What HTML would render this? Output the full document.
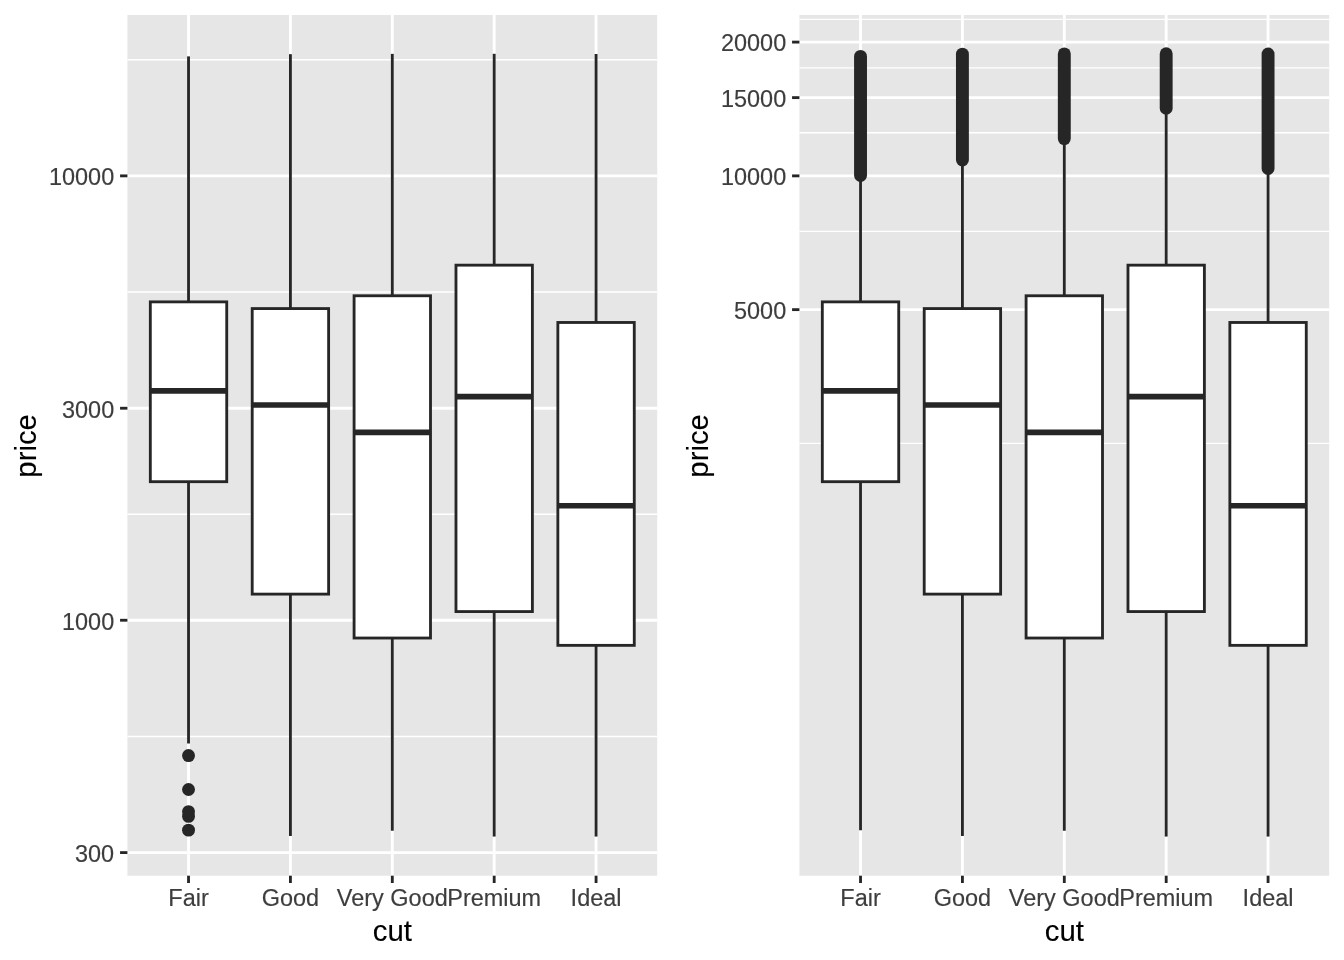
<!DOCTYPE html>
<html lang="en"><head><meta charset="utf-8"><title>price by cut</title>
<style>
html,body{margin:0;padding:0;background:#fff}
body{width:1344px;height:960px;overflow:hidden}
svg{display:block}
text{font-family:"Liberation Sans",Arial,Helvetica,sans-serif}
.at{font-size:23.47px;fill:#3D3D3D;stroke:#3D3D3D;stroke-width:0.15px}
.ti{font-size:29.33px;fill:#000;stroke:#000;stroke-width:0.12px}
</style></head><body>
<svg width="1344" height="960" viewBox="0 0 1344 960">
<rect width="1344" height="960" fill="#fff"/>
<rect x="127.40" y="15" width="529.80" height="860.70" fill="#E6E6E6"/>
<line x1="127.40" x2="657.20" y1="736.43" y2="736.43" stroke="#fff" stroke-width="1.42"/>
<line x1="127.40" x2="657.20" y1="514.24" y2="514.24" stroke="#fff" stroke-width="1.42"/>
<line x1="127.40" x2="657.20" y1="292.05" y2="292.05" stroke="#fff" stroke-width="1.42"/>
<line x1="127.40" x2="657.20" y1="59.70" y2="59.70" stroke="#fff" stroke-width="1.42"/>
<line x1="127.40" x2="657.20" y1="852.60" y2="852.60" stroke="#fff" stroke-width="2.84"/>
<line x1="127.40" x2="657.20" y1="620.25" y2="620.25" stroke="#fff" stroke-width="2.84"/>
<line x1="127.40" x2="657.20" y1="408.23" y2="408.23" stroke="#fff" stroke-width="2.84"/>
<line x1="127.40" x2="657.20" y1="175.87" y2="175.87" stroke="#fff" stroke-width="2.84"/>
<line x1="188.53" x2="188.53" y1="14.67" y2="875.70" stroke="#fff" stroke-width="2.84"/>
<line x1="290.42" x2="290.42" y1="14.67" y2="875.70" stroke="#fff" stroke-width="2.84"/>
<line x1="392.30" x2="392.30" y1="14.67" y2="875.70" stroke="#fff" stroke-width="2.84"/>
<line x1="494.18" x2="494.18" y1="14.67" y2="875.70" stroke="#fff" stroke-width="2.84"/>
<line x1="596.07" x2="596.07" y1="14.67" y2="875.70" stroke="#fff" stroke-width="2.84"/>
<circle cx="188.53" cy="830.16" r="6.45" fill="#262626"/>
<circle cx="188.53" cy="816.35" r="6.45" fill="#262626"/>
<circle cx="188.53" cy="811.61" r="6.45" fill="#262626"/>
<circle cx="188.53" cy="789.51" r="6.45" fill="#262626"/>
<circle cx="188.53" cy="755.57" r="6.45" fill="#262626"/>
<line x1="188.53" x2="188.53" y1="56.38" y2="301.87" stroke="#262626" stroke-width="2.84"/>
<line x1="188.53" x2="188.53" y1="481.69" y2="743.50" stroke="#262626" stroke-width="2.84"/>
<rect x="150.32" y="301.87" width="76.41" height="179.82" fill="#fff" stroke="#262626" stroke-width="2.84" stroke-linejoin="miter"/>
<line x1="150.32" x2="226.74" y1="390.89" y2="390.89" stroke="#262626" stroke-width="5.69"/>
<line x1="290.42" x2="290.42" y1="54.17" y2="308.57" stroke="#262626" stroke-width="2.84"/>
<line x1="290.42" x2="290.42" y1="594.12" y2="835.97" stroke="#262626" stroke-width="2.84"/>
<rect x="252.21" y="308.57" width="76.41" height="285.55" fill="#fff" stroke="#262626" stroke-width="2.84" stroke-linejoin="miter"/>
<line x1="252.21" x2="328.62" y1="405.01" y2="405.01" stroke="#262626" stroke-width="5.69"/>
<line x1="392.30" x2="392.30" y1="53.86" y2="295.77" stroke="#262626" stroke-width="2.84"/>
<line x1="392.30" x2="392.30" y1="638.03" y2="830.73" stroke="#262626" stroke-width="2.84"/>
<rect x="354.09" y="295.77" width="76.41" height="342.26" fill="#fff" stroke="#262626" stroke-width="2.84" stroke-linejoin="miter"/>
<line x1="354.09" x2="430.51" y1="432.31" y2="432.31" stroke="#262626" stroke-width="5.69"/>
<line x1="494.18" x2="494.18" y1="53.81" y2="265.16" stroke="#262626" stroke-width="2.84"/>
<line x1="494.18" x2="494.18" y1="611.57" y2="836.56" stroke="#262626" stroke-width="2.84"/>
<rect x="455.98" y="265.16" width="76.41" height="346.41" fill="#fff" stroke="#262626" stroke-width="2.84" stroke-linejoin="miter"/>
<line x1="455.98" x2="532.39" y1="396.68" y2="396.68" stroke="#262626" stroke-width="5.69"/>
<line x1="596.07" x2="596.07" y1="53.98" y2="322.47" stroke="#262626" stroke-width="2.84"/>
<line x1="596.07" x2="596.07" y1="645.36" y2="836.56" stroke="#262626" stroke-width="2.84"/>
<rect x="557.86" y="322.47" width="76.41" height="322.89" fill="#fff" stroke="#262626" stroke-width="2.84" stroke-linejoin="miter"/>
<line x1="557.86" x2="634.28" y1="505.74" y2="505.74" stroke="#262626" stroke-width="5.69"/>
<line x1="120.07" x2="127.40" y1="852.60" y2="852.60" stroke="#262626" stroke-width="2.84"/>
<text x="114.20" y="861.90" text-anchor="end" class="at">300</text>
<line x1="120.07" x2="127.40" y1="620.25" y2="620.25" stroke="#262626" stroke-width="2.84"/>
<text x="114.20" y="629.55" text-anchor="end" class="at">1000</text>
<line x1="120.07" x2="127.40" y1="408.23" y2="408.23" stroke="#262626" stroke-width="2.84"/>
<text x="114.20" y="417.53" text-anchor="end" class="at">3000</text>
<line x1="120.07" x2="127.40" y1="175.87" y2="175.87" stroke="#262626" stroke-width="2.84"/>
<text x="114.20" y="185.17" text-anchor="end" class="at">10000</text>
<line x1="188.53" x2="188.53" y1="875.70" y2="883.03" stroke="#262626" stroke-width="2.84"/>
<text x="188.53" y="906" text-anchor="middle" class="at">Fair</text>
<line x1="290.42" x2="290.42" y1="875.70" y2="883.03" stroke="#262626" stroke-width="2.84"/>
<text x="290.42" y="906" text-anchor="middle" class="at">Good</text>
<line x1="392.30" x2="392.30" y1="875.70" y2="883.03" stroke="#262626" stroke-width="2.84"/>
<text x="392.30" y="906" text-anchor="middle" class="at">Very Good</text>
<line x1="494.18" x2="494.18" y1="875.70" y2="883.03" stroke="#262626" stroke-width="2.84"/>
<text x="494.18" y="906" text-anchor="middle" class="at">Premium</text>
<line x1="596.07" x2="596.07" y1="875.70" y2="883.03" stroke="#262626" stroke-width="2.84"/>
<text x="596.07" y="906" text-anchor="middle" class="at">Ideal</text>
<text x="392.30" y="940.5" text-anchor="middle" class="ti">cut</text>
<text transform="translate(36.30,445.88) rotate(-90)" text-anchor="middle" class="ti">price</text>
<rect x="799.40" y="15" width="529.80" height="860.70" fill="#E6E6E6"/>
<line x1="799.40" x2="1329.20" y1="443.41" y2="443.41" stroke="#fff" stroke-width="1.42"/>
<line x1="799.40" x2="1329.20" y1="231.39" y2="231.39" stroke="#fff" stroke-width="1.42"/>
<line x1="799.40" x2="1329.20" y1="132.81" y2="132.81" stroke="#fff" stroke-width="1.42"/>
<line x1="799.40" x2="1329.20" y1="67.87" y2="67.87" stroke="#fff" stroke-width="1.42"/>
<line x1="799.40" x2="1329.20" y1="19.37" y2="19.37" stroke="#fff" stroke-width="1.42"/>
<line x1="799.40" x2="1329.20" y1="309.64" y2="309.64" stroke="#fff" stroke-width="2.84"/>
<line x1="799.40" x2="1329.20" y1="175.87" y2="175.87" stroke="#fff" stroke-width="2.84"/>
<line x1="799.40" x2="1329.20" y1="97.62" y2="97.62" stroke="#fff" stroke-width="2.84"/>
<line x1="799.40" x2="1329.20" y1="42.10" y2="42.10" stroke="#fff" stroke-width="2.84"/>
<line x1="860.53" x2="860.53" y1="14.67" y2="875.70" stroke="#fff" stroke-width="2.84"/>
<line x1="962.42" x2="962.42" y1="14.67" y2="875.70" stroke="#fff" stroke-width="2.84"/>
<line x1="1064.30" x2="1064.30" y1="14.67" y2="875.70" stroke="#fff" stroke-width="2.84"/>
<line x1="1166.18" x2="1166.18" y1="14.67" y2="875.70" stroke="#fff" stroke-width="2.84"/>
<line x1="1268.07" x2="1268.07" y1="14.67" y2="875.70" stroke="#fff" stroke-width="2.84"/>
<line x1="860.53" x2="860.53" y1="56.38" y2="175.51" stroke="#262626" stroke-width="12.9" stroke-linecap="round"/>
<line x1="860.53" x2="860.53" y1="177.51" y2="301.87" stroke="#262626" stroke-width="2.84"/>
<line x1="860.53" x2="860.53" y1="481.69" y2="830.16" stroke="#262626" stroke-width="2.84"/>
<rect x="822.32" y="301.87" width="76.41" height="179.82" fill="#fff" stroke="#262626" stroke-width="2.84" stroke-linejoin="miter"/>
<line x1="822.32" x2="898.74" y1="390.89" y2="390.89" stroke="#262626" stroke-width="5.69"/>
<line x1="962.42" x2="962.42" y1="54.17" y2="159.99" stroke="#262626" stroke-width="12.9" stroke-linecap="round"/>
<line x1="962.42" x2="962.42" y1="161.99" y2="308.57" stroke="#262626" stroke-width="2.84"/>
<line x1="962.42" x2="962.42" y1="594.12" y2="835.97" stroke="#262626" stroke-width="2.84"/>
<rect x="924.21" y="308.57" width="76.41" height="285.55" fill="#fff" stroke="#262626" stroke-width="2.84" stroke-linejoin="miter"/>
<line x1="924.21" x2="1000.62" y1="405.01" y2="405.01" stroke="#262626" stroke-width="5.69"/>
<line x1="1064.30" x2="1064.30" y1="53.86" y2="138.61" stroke="#262626" stroke-width="12.9" stroke-linecap="round"/>
<line x1="1064.30" x2="1064.30" y1="140.61" y2="295.77" stroke="#262626" stroke-width="2.84"/>
<line x1="1064.30" x2="1064.30" y1="638.03" y2="830.73" stroke="#262626" stroke-width="2.84"/>
<rect x="1026.09" y="295.77" width="76.41" height="342.26" fill="#fff" stroke="#262626" stroke-width="2.84" stroke-linejoin="miter"/>
<line x1="1026.09" x2="1102.51" y1="432.31" y2="432.31" stroke="#262626" stroke-width="5.69"/>
<line x1="1166.18" x2="1166.18" y1="53.81" y2="108.20" stroke="#262626" stroke-width="12.9" stroke-linecap="round"/>
<line x1="1166.18" x2="1166.18" y1="110.20" y2="265.16" stroke="#262626" stroke-width="2.84"/>
<line x1="1166.18" x2="1166.18" y1="611.57" y2="836.56" stroke="#262626" stroke-width="2.84"/>
<rect x="1127.98" y="265.16" width="76.41" height="346.41" fill="#fff" stroke="#262626" stroke-width="2.84" stroke-linejoin="miter"/>
<line x1="1127.98" x2="1204.39" y1="396.68" y2="396.68" stroke="#262626" stroke-width="5.69"/>
<line x1="1268.07" x2="1268.07" y1="53.98" y2="168.51" stroke="#262626" stroke-width="12.9" stroke-linecap="round"/>
<line x1="1268.07" x2="1268.07" y1="170.51" y2="322.47" stroke="#262626" stroke-width="2.84"/>
<line x1="1268.07" x2="1268.07" y1="645.36" y2="836.56" stroke="#262626" stroke-width="2.84"/>
<rect x="1229.86" y="322.47" width="76.41" height="322.89" fill="#fff" stroke="#262626" stroke-width="2.84" stroke-linejoin="miter"/>
<line x1="1229.86" x2="1306.28" y1="505.74" y2="505.74" stroke="#262626" stroke-width="5.69"/>
<line x1="792.07" x2="799.40" y1="309.64" y2="309.64" stroke="#262626" stroke-width="2.84"/>
<text x="786.20" y="318.94" text-anchor="end" class="at">5000</text>
<line x1="792.07" x2="799.40" y1="175.87" y2="175.87" stroke="#262626" stroke-width="2.84"/>
<text x="786.20" y="185.17" text-anchor="end" class="at">10000</text>
<line x1="792.07" x2="799.40" y1="97.62" y2="97.62" stroke="#262626" stroke-width="2.84"/>
<text x="786.20" y="106.92" text-anchor="end" class="at">15000</text>
<line x1="792.07" x2="799.40" y1="42.10" y2="42.10" stroke="#262626" stroke-width="2.84"/>
<text x="786.20" y="51.40" text-anchor="end" class="at">20000</text>
<line x1="860.53" x2="860.53" y1="875.70" y2="883.03" stroke="#262626" stroke-width="2.84"/>
<text x="860.53" y="906" text-anchor="middle" class="at">Fair</text>
<line x1="962.42" x2="962.42" y1="875.70" y2="883.03" stroke="#262626" stroke-width="2.84"/>
<text x="962.42" y="906" text-anchor="middle" class="at">Good</text>
<line x1="1064.30" x2="1064.30" y1="875.70" y2="883.03" stroke="#262626" stroke-width="2.84"/>
<text x="1064.30" y="906" text-anchor="middle" class="at">Very Good</text>
<line x1="1166.18" x2="1166.18" y1="875.70" y2="883.03" stroke="#262626" stroke-width="2.84"/>
<text x="1166.18" y="906" text-anchor="middle" class="at">Premium</text>
<line x1="1268.07" x2="1268.07" y1="875.70" y2="883.03" stroke="#262626" stroke-width="2.84"/>
<text x="1268.07" y="906" text-anchor="middle" class="at">Ideal</text>
<text x="1064.30" y="940.5" text-anchor="middle" class="ti">cut</text>
<text transform="translate(708.30,445.88) rotate(-90)" text-anchor="middle" class="ti">price</text>
</svg>
</body></html>
